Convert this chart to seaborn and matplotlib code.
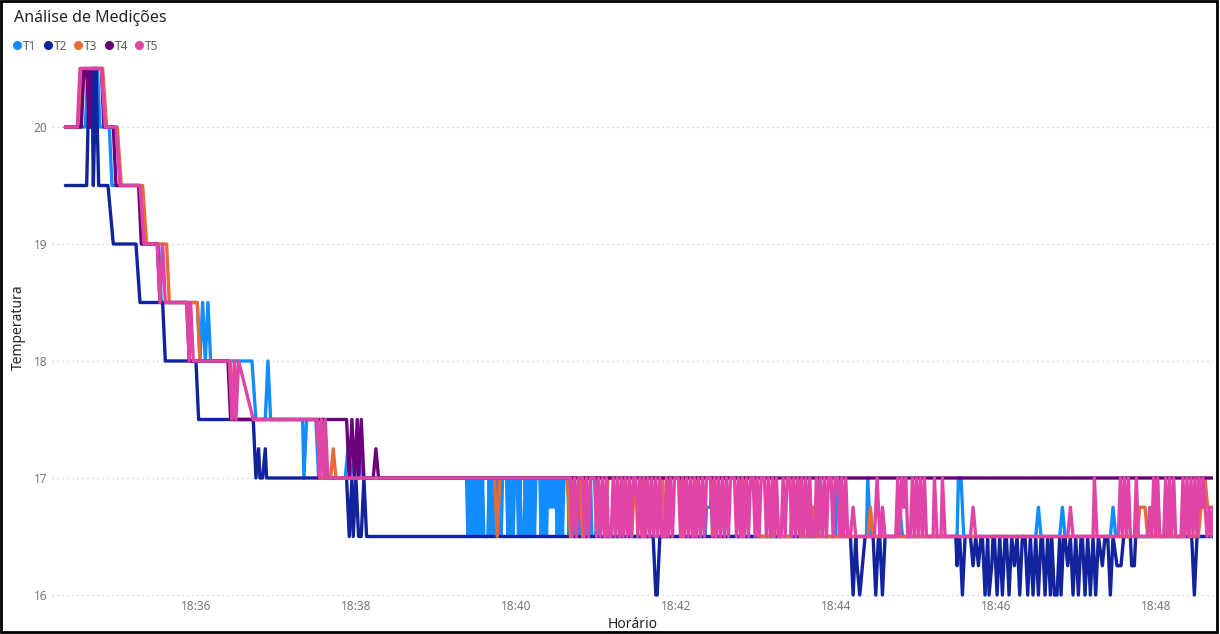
import matplotlib
matplotlib.use("Agg")
import matplotlib.pyplot as plt
import matplotlib.dates as mdates
from matplotlib.lines import Line2D
from matplotlib.patches import Rectangle
import pandas as pd
import seaborn as sns

# Readings: (seconds after 18:34:00, temperature) for each sensor
START = "2024-01-01 18:34:00"
SENSORS = ["T1", "T2", "T3", "T4", "T5"]
COLORS = {"T1": "#118DFF", "T2": "#12239E", "T3": "#E66C37", "T4": "#6B007B", "T5": "#E044A7"}
Y_TICKS = [16, 17, 18, 19, 20]

T1 = [(22, 20), (37, 20), (39, 20.5), (41, 20), (43, 20.5), (46, 20.5), (48, 20), (55, 20), (57, 19.5),
      (78, 19.5), (80, 19), (92, 19), (94, 18.5), (121, 18.5), (123, 18), (125, 18.5), (127, 18),
      (129, 18.5), (131, 18), (162, 18), (165, 17.5), (172, 17.5), (174, 18), (176, 17.5), (200, 17.5),
      (201, 17), (203, 17.5), (210, 17.5), (212, 17), (214, 17.5), (216, 17.5), (218, 17), (232, 17),
      (234, 17.25), (236, 17), (240, 17.25), (242, 17), (243, 17.25), (245, 17),
      (323, 17), (324, 16.5), (325, 17), (326, 16.5), (327, 17), (328, 16.5), (329, 17), (330, 16.5),
      (331, 17), (332, 16.5), (333, 17), (334, 16.5), (335, 17), (336, 16.5), (339, 16.5), (340, 17),
      (341, 16.5), (342, 17), (343, 16.5), (344, 17), (345, 16.5), (346, 17), (347, 16.5), (348, 17),
      (349, 16.5), (350, 17), (353, 17), (354, 16.5), (355, 17), (356, 16.5), (357, 17), (358, 16.5),
      (359, 17), (361, 17), (362, 16.5), (363, 17), (364, 16.5), (366, 16.5), (367, 17), (368, 16.5),
      (369, 17), (370, 16.5), (371, 17), (372, 16.5), (373, 17), (374, 16.5), (375, 17), (378, 17),
      (379, 16.5), (380, 17), (381, 16.5), (382, 17), (383, 16.5), (384, 17), (385, 16.75), (386, 17),
      (387, 16.75), (388, 17), (389, 16.75), (390, 17), (391, 16.5), (392, 17), (393, 16.5), (394, 17),
      (395, 16.5), (396, 17), (399, 17), (400, 16.5), (401, 17), (402, 16.5), (403, 17), (404, 16.5),
      (406, 16.5), (407, 17), (408, 16.5), (410, 16.5), (411, 17), (412, 16.5), (415, 16.5), (416, 17),
      (417, 16.5), (420, 16.5), (421, 17), (422, 16.5),
      (440, 16.5), (441, 16.75), (445, 16.75), (446, 16.5), (502, 16.5), (503, 16.75), (506, 16.75),
      (507, 17), (509, 16.5), (586, 16.5), (588, 17), (590, 16.5), (600, 16.5), (601, 17), (603, 17),
      (605, 16.5), (623, 16.5), (624, 17), (626, 16.5), (646, 16.5), (648, 16.75), (650, 16.5),
      (691, 16.5), (692, 17), (694, 17), (696, 16.5), (750, 16.5), (752, 16.75), (754, 16.5),
      (768, 16.5), (770, 16.75), (772, 16.5), (806, 16.5), (808, 16.75), (810, 16.5), (840, 16.5),
      (841, 17), (843, 16.5), (883, 16.5)]

T2 = [(22, 19.5), (38, 19.5), (40, 20.5), (41, 20), (42, 20.5), (43, 19.5), (44, 20), (45, 20.5),
      (47, 19.5), (54, 19.5), (58, 19), (75, 19), (78, 18.5), (95, 18.5), (97, 18), (120, 18),
      (122, 17.5), (163, 17.5), (165, 17), (167, 17.25), (168, 17), (170, 17), (172, 17.25), (173, 17),
      (233, 17), (235, 16.5), (237, 17), (238, 16.5), (240, 17), (242, 16.5), (244, 16.5), (246, 17),
      (248, 16.5),
      (463, 16.5), (465, 16), (466, 16), (468, 16.5),
      (611, 16.5), (613, 16), (615, 16.5), (616, 16.25), (618, 16), (620, 16.25), (622, 16.5),
      (628, 16.5), (630, 16), (632, 16.5), (633, 16.5), (635, 16), (637, 16.5),
      (690, 16.5), (691, 16.25), (692, 16.5), (693, 16.5), (695, 16), (697, 16.5),
      (701, 16.5), (703, 16.25), (705, 16.5), (707, 16.25), (709, 16.5),
      (710, 16.5), (712, 16), (714, 16.5), (715, 16), (717, 16.25), (718, 16.5),
      (719, 16.5), (721, 16), (723, 16.5), (725, 16), (727, 16.5),
      (728, 16.5), (730, 16), (732, 16.5), (734, 16.25), (736, 16.5), (738, 16), (740, 16.5),
      (742, 16.5), (744, 16), (746, 16.5), (748, 16), (750, 16.5), (752, 16), (754, 16.5),
      (755, 16.5), (757, 16), (759, 16.5), (761, 16), (762, 16.5), (764, 16), (766, 16), (768, 16.5),
      (769, 16), (771, 16.5),
      (772, 16.5), (774, 16.25), (776, 16.5), (778, 16), (780, 16.5), (782, 16), (784, 16.5),
      (785, 16.5), (787, 16), (789, 16.5), (791, 16), (793, 16.5), (795, 16), (797, 16.5),
      (800, 16.25), (802, 16.5),
      (804, 16.5), (806, 16), (808, 16.5), (811, 16.25), (814, 16.25), (816, 16.5),
      (821, 16.5), (822, 16.25), (824, 16.25), (825, 16.5),
      (867, 16.5), (869, 16), (871, 16.5), (883, 16.5)]

T3 = [(22, 20), (32, 20), (34, 20.5), (50, 20.5), (53, 20), (61, 20), (64, 19.5), (80, 19.5), (83, 19),
      (98, 19), (100, 18.5), (121, 18.5), (123, 18), (146, 18), (148, 17.5), (211, 17.5), (213, 17),
      (221, 17), (223, 17.25), (225, 17),
      (344, 17), (346, 16.5), (348, 17), (398, 17), (400, 16.75), (401, 16.5), (403, 17), (408, 17),
      (410, 16.5), (412, 17), (425, 17), (427, 16.5), (429, 17), (436, 17), (438, 16.5), (440, 17),
      (445, 17), (447, 16.5), (449, 17), (454, 17), (456, 16.5), (458, 17), (470, 17), (472, 16.5),
      (474, 17), (483, 17), (485, 16.5), (487, 17), (491, 17), (493, 16.5), (495, 17), (508, 17),
      (510, 16.5), (512, 17), (528, 17), (530, 16.5), (532, 17), (540, 17), (542, 16.5), (553, 16.5),
      (555, 17), (557, 16.5), (566, 16.5), (568, 17), (570, 16.75), (572, 17), (574, 16.5), (580, 16.5),
      (581, 16.75), (583, 16.75), (585, 16.5), (624, 16.5), (626, 16.75), (628, 16.5),
      (826, 16.5), (828, 16.75), (832, 16.75), (834, 16.5), (847, 16.5), (849, 16.75), (851, 16.5),
      (861, 16.5), (863, 16.75), (865, 16.5), (872, 16.5), (874, 16.75), (876, 16.75), (877, 17),
      (879, 16.75), (883, 16.75)]

T4 = [(22, 20), (34, 20), (36, 20.5), (38, 20.5), (40, 20), (41, 20.5), (49, 20.5), (51, 20), (58, 20),
      (60, 19.5), (77, 19.5), (79, 19), (91, 19), (93, 18.5), (113, 18.5), (115, 18), (144, 18),
      (146, 17.5), (233, 17.5), (235, 17), (237, 17.5), (239, 17), (241, 17.5), (242, 17), (244, 17.5),
      (246, 17), (253, 17), (255, 17.25), (257, 17), (883, 17)]

T5 = [(22, 20), (31, 20), (33, 20.5), (49, 20.5), (52, 20), (60, 20), (63, 19.5), (78, 19.5), (81, 19),
      (91, 19), (93, 18.5), (95, 19), (97, 18.5), (113, 18.5), (115, 18), (116, 18.5), (118, 18),
      (145, 18), (147, 17.5), (149, 18), (150, 17.5), (152, 18), (163, 17.5), (211, 17.5), (213, 17),
      (214, 17.5), (216, 17), (217, 17.5), (219, 17),
      (401, 17), (402.5, 16.5), (404, 17), (405.5, 16.5), (407, 17), (410, 17), (411.5, 16.5),
      (413, 17), (414.5, 16.5), (416, 17), (419, 17), (420.5, 16.5), (422, 17), (423.5, 16.5),
      (425, 17), (426.5, 16.5), (428, 17), (429.5, 16.5), (431.5, 16.5), (433, 17), (434.5, 16.5),
      (436, 17), (437.5, 16.5), (439, 17), (440.5, 16.5), (442, 17), (443.5, 16.5), (445, 17),
      (446.5, 16.5), (448, 17), (450, 17), (451.5, 16.5), (453, 17), (454.5, 16.5), (456, 17),
      (457.5, 16.5), (459, 17), (460.5, 16.5), (462, 17), (463.5, 16.5), (465, 17), (466.5, 16.5),
      (468, 17), (469.5, 16.5), (471.5, 16.5), (473, 17), (474.5, 16.5), (476, 17), (477.5, 16.5),
      (479, 17), (482, 17), (483.5, 16.5), (485, 17), (486.5, 16.5), (488, 17), (489.5, 16.5),
      (491, 17), (492.5, 16.5), (494, 17), (495.5, 16.5), (497, 17), (498.5, 16.5), (500, 17),
      (501.5, 16.5), (503, 17), (506, 17), (507.5, 16.5), (509, 17), (510.5, 16.5), (512, 17),
      (513.5, 16.5), (515, 17), (516.5, 16.5), (518, 17), (519.5, 16.5), (521, 17), (524, 17),
      (525.5, 16.5), (527, 17), (528.5, 16.5), (530, 17), (531.5, 16.5), (533, 17), (534.5, 16.5),
      (536, 17), (538, 17), (539.5, 16.5), (541, 17), (542.5, 16.5), (544, 17), (546.5, 17),
      (548, 16.5), (549.5, 17), (551, 16.5), (552.5, 17), (554, 16.5), (555.5, 17), (557, 16.5),
      (559, 16.5), (560.5, 17), (562, 16.5), (563.5, 17), (565.5, 17), (567, 16.5), (568.5, 17),
      (570, 16.5), (571.5, 17), (573, 16.5), (574.5, 17), (576, 16.5), (577.5, 17), (579, 16.5),
      (580.5, 17), (582, 16.5), (584, 16.5), (585.5, 17), (587, 16.5), (588.5, 17), (590, 16.5),
      (591.5, 17), (593, 16.5), (594.5, 17), (596.5, 17), (598, 16.5), (599.5, 17), (601.5, 17),
      (603, 16.5), (604.5, 17), (606, 16.5), (607.5, 17), (609, 16.5),
      (611, 16.5), (613, 16.75), (615, 16.5), (629, 16.5), (631, 17), (633, 16.5), (634, 16.5),
      (635, 16.75), (637, 16.5),
      (645, 16.5), (646.5, 17), (648, 16.5), (649.5, 17), (651, 16.75), (652.5, 17), (654, 16.5),
      (656, 16.5), (657.5, 17), (659, 16.5), (660.5, 17), (662, 16.5), (663.5, 17), (665, 16.5),
      (666.5, 17), (668, 16.5),
      (673, 16.5), (674, 17), (676, 16.5), (679, 16.5), (680, 17), (682, 16.5), (701, 16.5),
      (703, 16.75), (705, 16.5), (774, 16.5), (776, 16.75), (778, 16.5), (793, 16.5), (794, 17),
      (796, 16.5),
      (812, 16.5), (813.5, 17), (815, 16.5), (816.5, 17), (818, 16.5), (819.5, 17), (821, 16.5),
      (824, 16.5), (825.5, 17), (827, 16.5), (834, 16.5), (835.5, 16.75), (837, 16.5), (838.5, 17),
      (840, 16.5), (841.5, 17), (843, 16.5), (846, 16.5), (847.5, 17), (849, 16.5), (850.5, 17),
      (852, 16.5), (853.5, 17), (855, 16.5), (859, 16.5), (860.5, 17), (862, 16.5), (863.5, 17),
      (865, 16.5), (866.5, 17), (868, 16.5), (869.5, 17), (871, 16.5), (872.5, 17), (874, 16.75),
      (875.5, 17), (877, 16.75), (878.5, 16.5), (880, 16.75), (881.5, 16.5), (883, 16.75)]

t0 = pd.Timestamp(START)
frames = []
for name, readings in zip(SENSORS, [T1, T2, T3, T4, T5]):
    secs, temps = zip(*readings)
    frames.append(pd.DataFrame({
        "Horário": t0 + pd.to_timedelta(list(secs), unit="s"),
        "Temperatura": temps,
        "Sensor": name,
    }))
df = pd.concat(frames, ignore_index=True)

sns.set_theme(style="white")
plt.rcParams["font.family"] = ["Noto Sans", "DejaVu Sans"]

W, H = 1220, 634
fig = plt.figure(figsize=(W / 100, H / 100), dpi=100)
left, right, top, bottom = 52, 1213, 56.8, 598.5
ax = fig.add_axes([left / W, 1 - bottom / H, (right - left) / W, (bottom - top) / H])

sns.lineplot(data=df, x="Horário", y="Temperatura", hue="Sensor", hue_order=SENSORS,
             palette=COLORS, estimator=None, sort=False, linewidth=2.4, legend=False, ax=ax)

ax.set_xlim(t0 + pd.Timedelta(seconds=12), t0 + pd.Timedelta(seconds=883))
ax.set_ylim(15.97, 20.6)
ax.set_yticks(Y_TICKS)
ax.xaxis.set_major_locator(mdates.MinuteLocator(byminute=range(36, 50, 2)))
ax.xaxis.set_major_formatter(mdates.DateFormatter("%H:%M"))

ax.grid(axis="y", color="#C8C6C4", linestyle=(0, (1, 3)), linewidth=0.9)
ax.grid(axis="x", visible=False)
for sp in ax.spines.values():
    sp.set_visible(False)
ax.tick_params(axis="both", length=0, labelsize=8.5, labelcolor="#777777")
ax.tick_params(axis="x", pad=1)
ax.tick_params(axis="y", pad=3.5)

ax.set_xlabel("Horário", fontsize=10, color="#252423")
ax.set_ylabel("Temperatura", fontsize=10, color="#252423")
ax.xaxis.set_label_coords(0.5, -(617 - bottom) / (bottom - top))
ax.yaxis.set_label_coords((26 - left) / (right - left), 0.5)

fig.text(14 / W, 1 - 18 / H, "Análise de Medições", fontsize=11.5, color="#252423",
         ha="left", va="center")

handles = [Line2D([], [], marker="o", linestyle="", color=COLORS[s], markersize=5.5) for s in SENSORS]
fig.legend(handles, SENSORS, ncol=5, loc="center left", bbox_to_anchor=(13 / W, 1 - 46 / H),
           frameon=False, fontsize=8.5, labelcolor="#605E5C", handlelength=0.7,
           handletextpad=0.15, columnspacing=0.6, borderpad=0, borderaxespad=0)

fig.add_artist(Rectangle((1 / W, 2 / H), 1216 / W, 631 / H, transform=fig.transFigure,
                         fill=False, edgecolor="black", linewidth=2))

fig.savefig("out.png", dpi=100)
